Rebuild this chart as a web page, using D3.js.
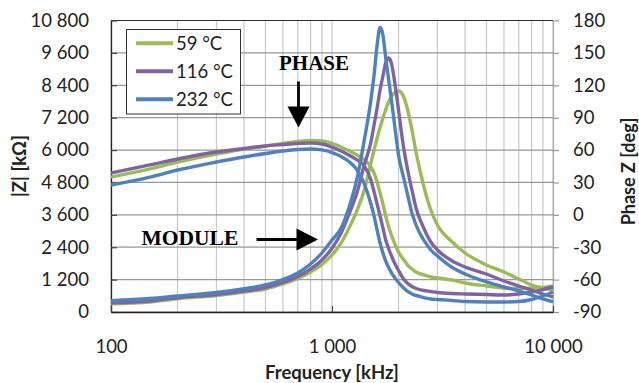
<!DOCTYPE html>
<html><head><meta charset="utf-8">
<script src="https://cdn.jsdelivr.net/npm/d3@7"></script>
<style>
html,body{margin:0;padding:0;background:#fff;}
svg{display:block;}
</style></head><body>
<svg id="chart" width="639" height="383"></svg>
<script>
// ---------- DATA ----------
const frequency = [100,150,200,300,400,500,600,700,800,900,1000,1100,1200,1300,1400,1500,1550,1600,1650,1700,1750,1800,1850,1900,1950,2000,2100,2200,2300,2400,2600,2800,3000,3500,4000,5000,6000,7000,8000,9000,10000];

// |Z| in kΩ (left axis)
const module59  = [307,371,493,611,741,852,1037,1241,1482,1760,2112,2556,3149,3779,4520,5520,6002,6447,6836,7188,7503,7762,7966,8095,8170,8188,8003,7484,6743,5928,4668,3779,3223,2594,2186,1741,1482,1223,1000,889,815];
const module116 = [345,408,530,648,778,908,1093,1315,1593,1927,2360,2927,3668,4446,5446,6299,6928,7558,8225,8744,9225,9411,9263,8781,8151,7484,6187,5261,4520,3853,3112,2594,2297,1890,1667,1408,1149,963,815,667,556];
const module232 = [419,500,593,722,860,1000,1204,1445,1778,2186,2668,3112,3927,4965,6373,7855,8781,9892,10541,10263,9411,8670,7966,7225,6484,5817,5039,4335,3668,3223,2668,2297,2075,1649,1408,1112,926,778,630,482,371];

// Phase in degrees (right axis)
const phase59  = [35.0,42.5,48.9,56.3,61.0,63.8,66.1,67.9,68.9,68.4,66.1,62.8,59.1,55.4,50.8,44.3,38.7,30.4,20.2,10.0,-1.1,-10.3,-17.8,-24.2,-29.8,-34.4,-40.9,-46.5,-50.2,-53.0,-55.7,-57.6,-58.5,-60.4,-63.1,-65.9,-67.8,-68.2,-67.8,-67.3,-65.9];
const phase116 = [38.7,46.2,51.7,58.2,61.4,63.8,65.1,66.1,66.5,65.6,62.8,59.1,55.0,50.8,45.2,32.3,21.2,10.0,-1.1,-12.2,-23.3,-30.7,-37.2,-42.8,-47.4,-51.6,-59.0,-63.6,-66.4,-68.2,-70.1,-71.0,-71.9,-72.9,-73.3,-73.8,-74.3,-73.3,-71.5,-69.2,-66.8];
const phase232 = [27.6,35.0,41.5,48.9,53.6,56.8,59.1,60.5,61.0,60.1,57.7,54.0,48.9,41.5,28.6,10.0,-1.1,-14.0,-26.1,-35.4,-42.8,-48.3,-53.0,-56.7,-59.9,-62.7,-67.3,-71.0,-73.3,-74.7,-76.6,-78.0,-78.4,-79.3,-80.3,-80.7,-80.7,-80.3,-78.4,-75.2,-71.5];

const seriesNames  = ["59 °C","116 °C","232 °C"];
const seriesColors = ["#9BBB59","#8064A2","#4F81BD"];

const leftTicks   = [0,1200,2400,3600,4800,6000,7200,8400,9600,10800];
const rightTicks  = [-90,-60,-30,0,30,60,90,120,150,180];
const bottomTicks = [100,1000,10000];

// ---------- LAYOUT ----------
const L = 111, R = 553, T = 20.5, B = 312;
const svg = d3.select("#chart");
const font = "Lato, 'Open Sans', sans-serif";

const x  = d3.scaleLog().domain([100,10000]).range([L,R]);
const yL = d3.scaleLinear().domain([0,10800]).range([B,T]);
const yR = d3.scaleLinear().domain([-90,180]).range([B,T]);

const loc = d3.formatLocale({decimal:",", thousands:"\u2009", grouping:[3], currency:["",""]});
const fmt = loc.format(",d");
const fmtSp = v => fmt(v).replace(/\u2009/g," ");

// vertical grid (major + minor, log)
const vgrid = [];
[100,1000].forEach(d => { for (let k=1;k<=10;k++) vgrid.push(d*k); });
const uniqV = Array.from(new Set(vgrid));
svg.append("g").selectAll("line").data(uniqV).join("line")
  .attr("x1", d=>x(d)).attr("x2", d=>x(d)).attr("y1", T).attr("y2", B)
  .attr("stroke","#c8c8c8").attr("stroke-width",1.2);

// horizontal grid
svg.append("g").selectAll("line").data(leftTicks).join("line")
  .attr("x1", L).attr("x2", R).attr("y1", d=>yL(d)).attr("y2", d=>yL(d))
  .attr("stroke","#989898").attr("stroke-width",1.2);

// top border
svg.append("line").attr("x1",L).attr("x2",R).attr("y1",T).attr("y2",T)
  .attr("stroke","#333").attr("stroke-width",1.2);

// axes
const axL = svg.append("g").attr("transform",`translate(${L},0)`)
  .call(d3.axisLeft(yL).tickValues(leftTicks).tickFormat(fmtSp).tickSizeInner(-6).tickSizeOuter(0).tickPadding(22));
const axR = svg.append("g").attr("transform",`translate(${R},0)`)
  .call(d3.axisRight(yR).tickValues(rightTicks).tickFormat(d=>String(d)).tickSizeInner(6).tickSizeOuter(0).tickPadding(14));
const axB = svg.append("g").attr("transform",`translate(0,${B})`)
  .call(d3.axisBottom(x).tickValues(bottomTicks).tickFormat(fmtSp).tickSizeInner(-6).tickSizeOuter(0).tickPadding(28));

[axL,axR,axB].forEach(a=>{
  a.selectAll("text").attr("font-family",font).attr("font-size","18.5px").attr("fill","#222");
  a.selectAll(".tick line").attr("stroke","#444").attr("stroke-width",1.2);
});
axL.select(".domain").attr("stroke","#222").attr("stroke-width",1.3);
axB.select(".domain").attr("stroke","#222").attr("stroke-width",1.3);
axR.select(".domain").attr("stroke","#aaa").attr("stroke-width",1.2);
axR.selectAll(".tick line").attr("stroke","#999");

// axis titles
svg.append("text").attr("transform","translate(25.5,166) rotate(-90)")
  .attr("text-anchor","middle").attr("font-family",font).attr("font-weight","bold")
  .attr("font-size","18.5px").attr("fill","#222").text("|Z| [kΩ]");
svg.append("text").attr("transform","translate(634.5,171.5) rotate(-90)")
  .attr("text-anchor","middle").attr("font-family",font).attr("font-weight","bold")
  .attr("font-size","18px").attr("fill","#222").text("Phase Z [deg]");
svg.append("text").attr("x",332).attr("y",378.5)
  .attr("text-anchor","middle").attr("font-family",font).attr("font-weight","bold")
  .attr("font-size","18.5px").attr("fill","#222").text("Frequency [kHz]");

// curves
const modules = [module59, module116, module232];
const phases  = [phase59, phase116, phase232];
const lineL = d3.line().x((d,i)=>x(frequency[i])).y(d=>yL(d)).curve(d3.curveMonotoneX);
const lineR = d3.line().x((d,i)=>x(frequency[i])).y(d=>yR(d)).curve(d3.curveMonotoneX);
const gC = svg.append("g");
modules.forEach((m,i)=>{
  gC.append("path").attr("d", lineR(phases[i])).attr("fill","none")
    .attr("stroke",seriesColors[i]).attr("stroke-width",3.4).attr("stroke-linejoin","round");
  gC.append("path").attr("d", lineL(m)).attr("fill","none")
    .attr("stroke",seriesColors[i]).attr("stroke-width",3.4).attr("stroke-linejoin","round");
});

// legend
const lg = svg.append("g");
lg.append("rect").attr("x",126.5).attr("y",29.5).attr("width",114).attr("height",84.5)
  .attr("fill","#fff").attr("stroke","#333").attr("stroke-width",1);
seriesNames.forEach((n,i)=>{
  const cy = 43.3 + i*28;
  lg.append("line").attr("x1",136).attr("x2",173).attr("y1",cy).attr("y2",cy)
    .attr("stroke",seriesColors[i]).attr("stroke-width",4);
  lg.append("text").attr("x",176).attr("y",cy+6.6).attr("font-family",font)
    .attr("font-size","18.5px").attr("fill","#222").text(n);
});

// annotations
const serif = "'Liberation Serif','Times New Roman',serif";
svg.append("text").attr("x",279).attr("y",70).attr("font-family",serif).attr("font-weight","bold")
  .attr("font-size","21px").attr("fill","#000").text("PHASE");
svg.append("text").attr("x",141.5).attr("y",245).attr("font-family",serif).attr("font-weight","bold")
  .attr("font-size","21.5px").attr("fill","#000").text("MODULE");
// PHASE arrow (down)
svg.append("line").attr("x1",298.5).attr("x2",298.5).attr("y1",81.5).attr("y2",108)
  .attr("stroke","#000").attr("stroke-width",2.8);
svg.append("path").attr("d","M287.5,106.5 L309.5,106.5 L298.5,127.5 Z").attr("fill","#000");
// MODULE arrow (right)
svg.append("line").attr("x1",256.5).attr("x2",298).attr("y1",239.5).attr("y2",239.5)
  .attr("stroke","#000").attr("stroke-width",2.8);
svg.append("path").attr("d","M296.5,228.5 L296.5,250.5 L318,239.5 Z").attr("fill","#000");
</script>
</body></html>
